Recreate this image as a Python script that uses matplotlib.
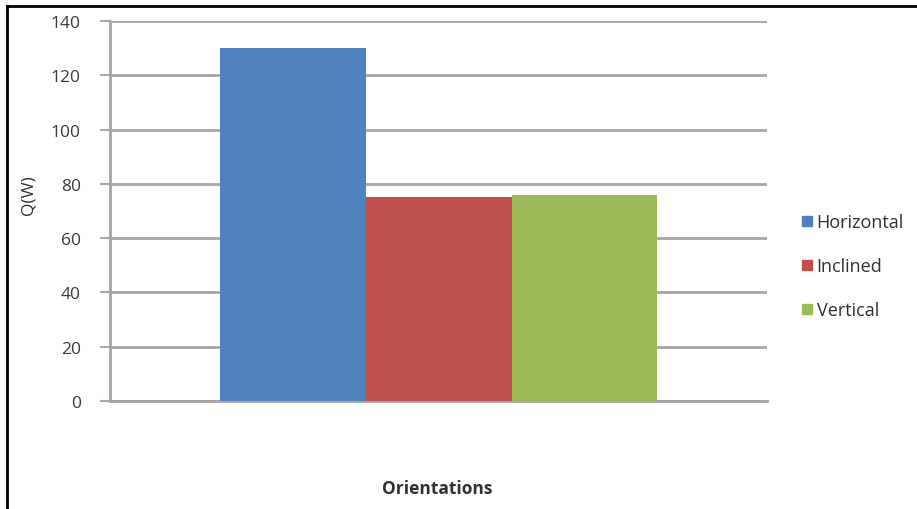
import matplotlib
matplotlib.use("Agg")
import matplotlib.pyplot as plt
from matplotlib.lines import Line2D

orientations = ["Horizontal", "Inclined", "Vertical"]
heat_w = [130, 75, 76]
colors = ["#4F81BD", "#C0504D", "#9BBB59"]
y_ticks = [0, 20, 40, 60, 80, 100, 120, 140]

plt.rcParams["font.family"] = ["Open Sans", "DejaVu Sans"]

fig = plt.figure(figsize=(9.17, 5.10), dpi=100)
ax = fig.add_axes([0.12, 0.2118, 0.7164, 0.7451])

group_width = 2 / 3
bar_w = group_width / len(heat_w)
offsets = [(i - (len(heat_w) - 1) / 2) * bar_w for i in range(len(heat_w))]
for name, val, col, off in zip(orientations, heat_w, colors, offsets):
    ax.bar(off, val, width=bar_w, color=col, label=name, zorder=3, linewidth=0)

ax.set_xlim(-0.5, 0.5)
ax.set_ylim(0, 140)
ax.set_yticks(y_ticks)
ax.set_xticks([])
ax.grid(axis="y", color="#a6a6a6", linewidth=2, zorder=0)
ax.tick_params(axis="y", length=7, width=1.5, color="#a6a6a6", labelsize=12.5,
               labelcolor="#3a3a3a", pad=14)
for side in ["top", "right"]:
    ax.spines[side].set_visible(False)
for side in ["left", "bottom"]:
    ax.spines[side].set_color("#a6a6a6")
    ax.spines[side].set_linewidth(2)

fig.text(0.031, 0.618, "Q(W)", rotation=90, ha="center", va="center",
         fontsize=12.5, color="#303030")
fig.text(0.477, 0.041, "Orientations", ha="center", va="center",
         fontsize=12.5, fontweight="bold", color="#303030")

handles = [Line2D([], [], marker="s", linestyle="none", markersize=7.2,
                  markerfacecolor=c, markeredgecolor=c) for c in colors]
fig.legend(handles, orientations, loc="center left",
           bbox_to_anchor=(0.862, 0.476), frameon=False, fontsize=13,
           labelspacing=1.45, handletextpad=0.15, handlelength=0.8,
           borderpad=0, labelcolor="#303030")

# partial frame along the top and left edges
fig.add_artist(Line2D([0.008, 0.008], [0.0, 0.987], transform=fig.transFigure,
                      color="black", linewidth=2))
fig.add_artist(Line2D([0.008, 1.0], [0.987, 0.987], transform=fig.transFigure,
                      color="black", linewidth=2))

fig.savefig("out.png", dpi=100, facecolor="white")
